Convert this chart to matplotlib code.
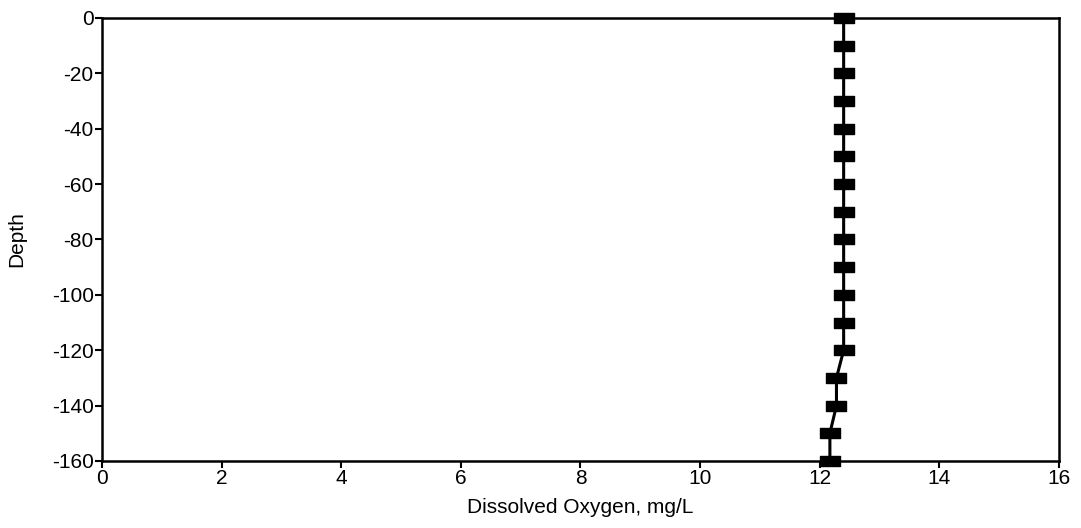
import matplotlib.pyplot as plt
from matplotlib.path import Path

# dissolved oxygen profile
depth = [0, -10, -20, -30, -40, -50, -60, -70, -80, -90, -100, -110, -120, -130, -140, -150, -160]
oxygen = [12.4, 12.4, 12.4, 12.4, 12.4, 12.4, 12.4, 12.4, 12.4, 12.4, 12.4, 12.4, 12.4, 12.28, 12.28, 12.17, 12.17]

xticks = [0, 2, 4, 6, 8, 10, 12, 14, 16]
yticks = [0, -20, -40, -60, -80, -100, -120, -140, -160]

plt.rcParams['font.family'] = ['Liberation Sans', 'DejaVu Sans']
plt.rcParams['axes.unicode_minus'] = False

# flat rectangle marker like the old plotting package
bar = Path([(-0.5, -0.22), (0.5, -0.22), (0.5, 0.22), (-0.5, 0.22), (-0.5, -0.22)],
           [Path.MOVETO, Path.LINETO, Path.LINETO, Path.LINETO, Path.CLOSEPOLY])

fig = plt.figure(figsize=(10.81, 5.28), dpi=100)
ax = fig.add_axes([0.0944, 0.127, 0.8852, 0.839])
ax.plot(oxygen, depth, color='black', linewidth=2.2, marker=bar, markersize=15,
        markerfacecolor='black', markeredgecolor='black', clip_on=False, zorder=3)

ax.set_xlim(0, 16)
ax.set_ylim(-160, 0)
ax.set_xticks(xticks)
ax.set_yticks(yticks)
ax.tick_params(direction='out', length=5, width=1.5, labelsize=15, pad=1)
for s in ax.spines.values():
    s.set_linewidth(1.8)
ax.set_xlabel('Dissolved Oxygen, mg/L', fontsize=15, labelpad=7)
ax.set_ylabel('Depth', fontsize=15, labelpad=18)

fig.savefig('out.png', dpi=100)
